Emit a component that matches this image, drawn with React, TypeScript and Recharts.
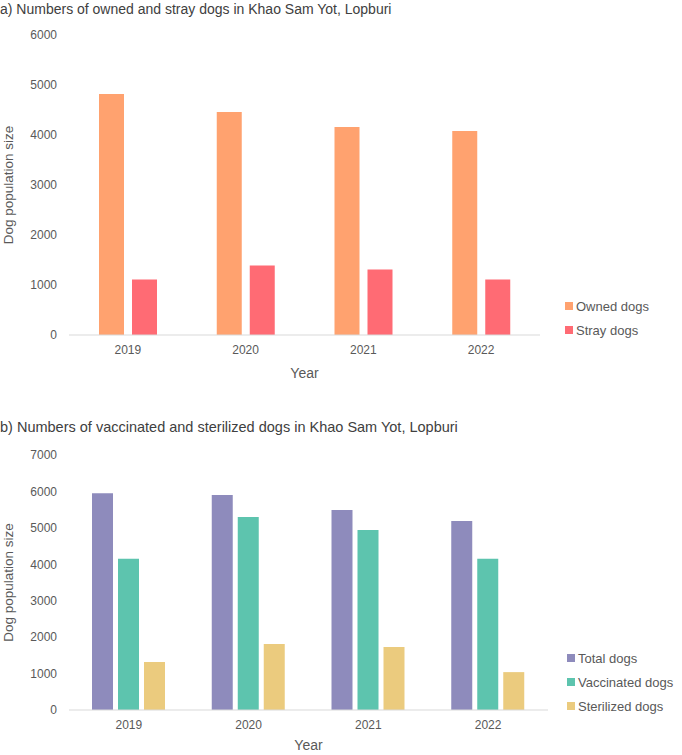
import React from "react";
import { BarChart, Bar, XAxis, YAxis } from "recharts";

const years = ["2019", "2020", "2021", "2022"];

// panel a
const ownedDogs = [4820, 4460, 4160, 4080];
const strayDogs = [1110, 1390, 1310, 1110];
const ticksA = [0, 1000, 2000, 3000, 4000, 5000, 6000];

// panel b
const totalDogs = [5950, 5900, 5490, 5190];
const vaccinatedDogs = [4150, 5300, 4940, 4150];
const sterilizedDogs = [1320, 1810, 1730, 1040];
const ticksB = [0, 1000, 2000, 3000, 4000, 5000, 6000, 7000];

const titleA = "a) Numbers of owned and stray dogs in Khao Sam Yot, Lopburi";
const titleB = "b) Numbers of vaccinated and sterilized dogs in Khao Sam Yot, Lopburi";

const FONT = "'Liberation Sans', Arial, sans-serif";
const TEXT = "#595959";
const AXIS = "#d9d9d9";

const dataA = years.map((year, i) => ({ year, owned: ownedDogs[i], stray: strayDogs[i] }));
const dataB = years.map((year, i) => ({
  year,
  total: totalDogs[i],
  vaccinated: vaccinatedDogs[i],
  sterilized: sterilizedDogs[i],
}));

const seriesA = [
  { key: "owned", name: "Owned dogs", color: "#ffa26f" },
  { key: "stray", name: "Stray dogs", color: "#ff6b74" },
];
const seriesB = [
  { key: "total", name: "Total dogs", color: "#8e8bbc" },
  { key: "vaccinated", name: "Vaccinated dogs", color: "#5dc4ae" },
  { key: "sterilized", name: "Sterilized dogs", color: "#ebcb7e" },
];

type Series = { key: string; name: string; color: string };

function SideLegend({ items, left, top }: { items: Series[]; left: number; top: number }) {
  return (
    <div style={{ position: "absolute", left, top, fontFamily: FONT, fontSize: 13, color: TEXT }}>
      {items.map((s) => (
        <div key={s.key} style={{ display: "flex", alignItems: "center", height: 24 }}>
          <span style={{ width: 8, height: 8, background: s.color, marginRight: 3 }} />
          <span>{s.name}</span>
        </div>
      ))}
    </div>
  );
}

const tickStyle = { fontSize: 12, fill: TEXT, fontFamily: FONT };

const yLabel = {
  value: "Dog population size",
  angle: -90,
  position: "insideLeft" as const,
  offset: 8,
  fill: TEXT,
  fontSize: 13.5,
  fontFamily: FONT,
  style: { textAnchor: "middle" },
};

export default function App() {
  return (
    <div style={{ position: "absolute", left: 0, top: 0, width: 682, height: 755, background: "#fff" }}>
      <div style={{ position: "absolute", left: 0, top: 1, fontFamily: FONT, fontSize: 14, color: "#404040", whiteSpace: "nowrap" }}>
        {titleA}
      </div>
      <div style={{ position: "absolute", left: 0, top: 3 }}>
        <BarChart
          width={682}
          height={390}
          data={dataA}
          margin={{ top: 32, right: 142, left: 0, bottom: 15 }}
          barSize={25}
          barGap={8}
        >
          <XAxis
            dataKey="year"
            tick={tickStyle}
            tickLine={false}
            tickSize={0}
            tickMargin={10}
            axisLine={{ stroke: AXIS }}
            height={43}
            label={{ value: "Year", position: "insideBottom", offset: 0, fill: TEXT, fontSize: 14, fontFamily: FONT }}
          />
          <YAxis
            domain={[0, 6000]}
            ticks={ticksA}
            width={69}
            tick={tickStyle}
            tickLine={false}
            axisLine={false}
            tickSize={0}
            tickMargin={12}
            label={yLabel}
          />
          {seriesA.map((s) => (
            <Bar key={s.key} dataKey={s.key} name={s.name} fill={s.color} isAnimationActive={false} />
          ))}
        </BarChart>
      </div>
      <SideLegend items={seriesA} left={565} top={294} />

      <div style={{ position: "absolute", left: 0, top: 419, fontFamily: FONT, fontSize: 14.5, color: "#404040", whiteSpace: "nowrap" }}>
        {titleB}
      </div>
      <div style={{ position: "absolute", left: 0, top: 400 }}>
        <BarChart
          width={682}
          height={355}
          data={dataB}
          margin={{ top: 55, right: 134, left: 0, bottom: 5 }}
          barSize={21}
          barGap={5}
        >
          <XAxis
            dataKey="year"
            tick={tickStyle}
            tickLine={false}
            tickSize={0}
            tickMargin={10}
            axisLine={{ stroke: AXIS }}
            height={40}
            label={{ value: "Year", position: "insideBottom", offset: 0, fill: TEXT, fontSize: 14, fontFamily: FONT }}
          />
          <YAxis
            domain={[0, 7000]}
            ticks={ticksB}
            width={69}
            tick={tickStyle}
            tickLine={false}
            axisLine={false}
            tickSize={0}
            tickMargin={12}
            label={yLabel}
          />
          {seriesB.map((s) => (
            <Bar key={s.key} dataKey={s.key} name={s.name} fill={s.color} isAnimationActive={false} />
          ))}
        </BarChart>
      </div>
      <SideLegend items={seriesB} left={567} top={646} />
    </div>
  );
}
